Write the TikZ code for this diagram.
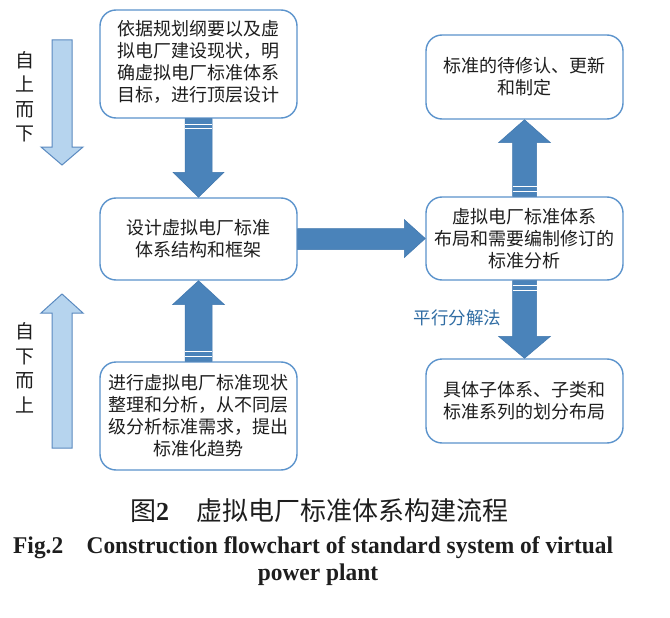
\documentclass[tikz,border=0pt]{standalone}
\usepackage{fontspec}
\setmainfont{Liberation Serif}
\newfontfamily\cjk{Noto Sans CJK SC}
\usetikzlibrary{calc}
\definecolor{boxc}{HTML}{5B93CC}
\definecolor{darkfill}{HTML}{4A83BA}
\definecolor{darkline}{HTML}{3F76AD}
\definecolor{lightfill}{HTML}{B6D4EE}
\definecolor{lightline}{HTML}{5A8AC0}
\definecolor{txt}{HTML}{1E1E1E}
\definecolor{bluetxt}{HTML}{2F6CA3}
\tikzset{
  boxst/.style={draw=boxc, line width=1.4pt, rounded corners=16pt, fill=white,
    minimum width=197pt, minimum height=#1, align=center, inner sep=0pt,
    font=\cjk\fontsize{18}{22}\selectfont, text=txt},
  darkarrow/.style={fill=darkfill, draw=darkline, line width=0.5pt},
  lightarrow/.style={fill=lightfill, draw=lightline, line width=1pt},
  stripe/.style={draw=white, line width=0.9pt},
  sidetext/.style={font=\cjk\fontsize{19}{24.5}\selectfont, text=txt, align=center, inner sep=0pt}
}
% vertical block arrow: style, tail, tip, shaft half width, head half width, head length
\newcommand{\vblock}[6]{%
  \coordinate (hb) at ($(#3)!#6pt!(#2)$);
  \draw[#1] ([xshift=-#4pt]#2) -- ([xshift=-#4pt]#2 |- hb) -- ([xshift=-#5pt]hb) -- (#3)
    -- ([xshift=#5pt]hb) -- ([xshift=#4pt]#2 |- hb) -- ([xshift=#4pt]#2) -- cycle;}
% horizontal block arrow
\newcommand{\hblock}[6]{%
  \coordinate (hb) at ($(#3)!#6pt!(#2)$);
  \draw[#1] ([yshift=-#4pt]#2) -- ([yshift=-#4pt]#2 -| hb) -- ([yshift=-#5pt]hb) -- (#3)
    -- ([yshift=#5pt]hb) -- ([yshift=#4pt]#2 -| hb) -- ([yshift=#4pt]#2) -- cycle;}
\begin{document}
\begin{tikzpicture}[x=1pt,y=-1pt]
\useasboundingbox[fill=white] (0,0) rectangle (670,618);

% boxes
\node[boxst=108pt] (b1) at (198.5,64) {\raisebox{-3pt}{\begin{tabular}{@{}c@{}}依据规划纲要以及虚\\拟电厂建设现状，明\\确虚拟电厂标准体系\\目标，进行顶层设计\end{tabular}}};
\node[boxst=82pt] (b2) at (198.5,239) {设计虚拟电厂标准\\体系结构和框架};
\node[boxst=108pt] (b3) at (198.5,416) {进行虚拟电厂标准现状\\整理和分析，从不同层\\级分析标准需求，提出\\标准化趋势};
\node[boxst=84pt] (b4) at (524.5,77) {标准的待修认、更新\\和制定};
\node[boxst=83pt] (b5) at (524.5,238.5) {虚拟电厂标准体系\\布局和需要编制修订的\\标准分析};
\node[boxst=84pt] (b6) at (524.5,401) {具体子体系、子类和\\标准系列的划分布局};

% dark block arrows between boxes
\vblock{darkarrow}{b1.south}{b2.north}{13.5}{25.5}{25}
\draw[stripe] ([xshift=-13.5pt,yshift=-6pt]b1.south) -- ([xshift=13.5pt,yshift=-6pt]b1.south);
\draw[stripe] ([xshift=-13.5pt,yshift=-10pt]b1.south) -- ([xshift=13.5pt,yshift=-10pt]b1.south);

\vblock{darkarrow}{b3.north}{b2.south}{13.5}{26}{24}
\draw[stripe] ([xshift=-13.5pt,yshift=5pt]b3.north) -- ([xshift=13.5pt,yshift=5pt]b3.north);
\draw[stripe] ([xshift=-13.5pt,yshift=10pt]b3.north) -- ([xshift=13.5pt,yshift=10pt]b3.north);

\hblock{darkarrow}{b2.east}{b5.west}{10.5}{19}{21}

\vblock{darkarrow}{b5.north}{b4.south}{12}{26}{23}
\draw[stripe] ([xshift=-12pt,yshift=5pt]b5.north) -- ([xshift=12pt,yshift=5pt]b5.north);
\draw[stripe] ([xshift=-12pt,yshift=10pt]b5.north) -- ([xshift=12pt,yshift=10pt]b5.north);

\vblock{darkarrow}{b5.south}{b6.north}{12}{26}{22}
\draw[stripe] ([xshift=-12pt,yshift=-5pt]b5.south) -- ([xshift=12pt,yshift=-5pt]b5.south);
\draw[stripe] ([xshift=-12pt,yshift=-10pt]b5.south) -- ([xshift=12pt,yshift=-10pt]b5.south);

\node[font=\cjk\fontsize{17.5}{20}\selectfont, text=bluetxt, inner sep=0pt] (pf) at (457.5,318) {平行分解法};

% light side arrows
\draw[lightarrow] (52,40) -- (52,147) -- (41,147) -- (62,165) -- (83,147) -- (72,147) -- (72,40) -- cycle;
\draw[lightarrow] (52,448) -- (52,313) -- (41,313) -- (62,294) -- (83,313) -- (72,313) -- (72,448) -- cycle;
\node[sidetext] (td) at (25,97) {自\\上\\而\\下};
\node[sidetext] (bu) at (25,368) {自\\下\\而\\上};

% captions
\node[anchor=base west, inner sep=0pt, text=txt] (cap1) at (130,520)
  {{\cjk\fontsize{26}{30}\selectfont 图}{\fontsize{26}{30}\selectfont\bfseries 2}\hspace{27pt}{\cjk\fontsize{26}{30}\selectfont 虚拟电厂标准体系构建流程}};
\node[anchor=base west, inner sep=0pt, text=txt, font=\fontsize{24}{27}\selectfont\bfseries] (cap2) at (13,553)
  {\scalebox{0.975}[1]{Fig.2\hspace{24pt}Construction flowchart of standard system of virtual}};
\node[anchor=base, inner sep=0pt, text=txt, font=\fontsize{24}{27}\selectfont\bfseries] (cap3) at (318,580)
  {\scalebox{0.975}[1]{power plant}};
\end{tikzpicture}
\end{document}
